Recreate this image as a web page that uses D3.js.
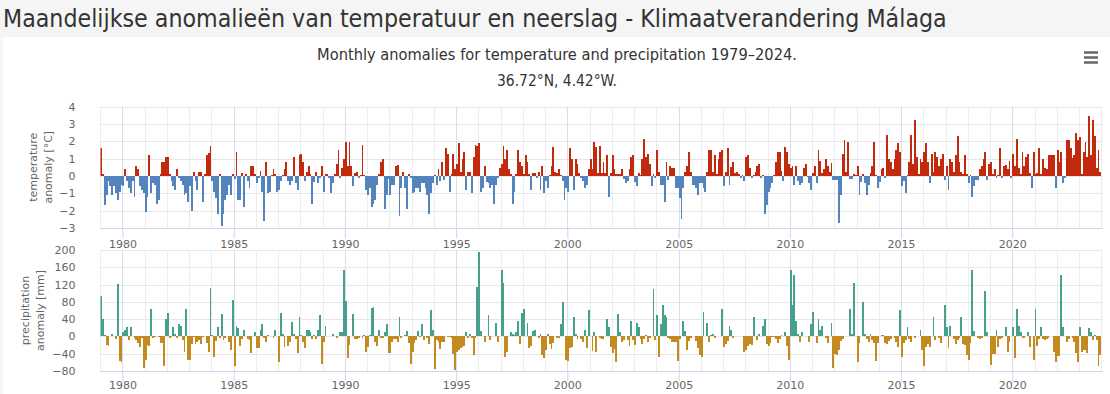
<!DOCTYPE html>
<html>
<head>
<meta charset="utf-8">
<script src="https://cdn.jsdelivr.net/npm/d3@7"></script>
<style>
  body { margin: 0; background: #f5f5f5; }
  svg { display: block; }
</style>
</head>
<body>
<svg id="chart" width="1110" height="394"></svg>
<script>
// monthly temperature anomaly [°C], one row per year, 1979 .. 2023
const tempAnomaly = [
  1.6, 0.1, -1.7, -1.1, -0.3, -0.6, -1.1, -0.6, -1.0, -1.4, -0.9, -0.5,
  -0.6, 0.4, -0.3, -0.7, -1.0, -0.3, -1.2, 0.6, 0.4, -0.6, -0.8, -1.0,
  -2.1, -1.2, 1.2, -1.0, -0.4, -0.5, -1.6, -1.4, 0.1, 0.8, 0.8, 1.1,
  1.1, 0.1, -0.3, -0.6, -0.8, 0.4, -0.1, -0.3, -0.5, -1.1, -1.0, -1.5,
  -0.6, -2.0, 0.2, -0.3, -0.8, 0.2, 0.2, -1.5, 0.1, 1.2, 1.3, 1.7,
  -0.3, -0.9, -1.3, -2.2, 0.1, -2.9, -2.2, -1.4, -1.1, -0.5, -1.1, 0.1,
  -0.2, 1.4, -1.4, -1.4, 0.15, -1.8, 0.1, -0.3, -0.7, 0.55, 0.55, 0.1,
  -0.4, -0.1, 0.3, -0.9, -2.6, 0.8, -1.0, -0.9, 0.05, 0.4, 0.1, -0.9,
  -0.8, -0.3, 0.05, 0.4, 0.8, -0.3, -0.5, -0.3, 1.1, -0.4, -0.8, 1.2,
  1.25, 0.8, -0.3, 0.25, 0.55, 0.1, -1.6, -0.35, 0.25, -0.4, -0.1, 0.55,
  -0.9, 0.1, 0.1, -0.1, -1.0, -0.4, 0.1, 0.7, 1.5, -0.1, 0.45, 1.0,
  1.95, 0.6, 1.95, 0.55, -0.6, 0.15, 0.25, -0.1, 0.05, 1.8, 0.05, -0.8,
  -1.1, -0.7, -1.8, -1.6, -1.4, -0.5, 0.1, 0.8, 0.95, -1.9, -1.1, -0.2,
  -1.1, -0.5, -0.5, 0.55, 0.65, -2.3, -0.7, 0.25, -0.7, -1.9, 0.1, -0.1,
  -1.0, -0.9, -0.7, -0.7, -0.9, -0.4, -0.4, -0.7, -1.1, -2.2, -1.0, -0.4,
  0.05, -0.5, 0.4, -0.3, 0.8, -0.25, 1.6, 1.25, -0.9, 0.1, 1.25, 0.4,
  0.7, 1.9, 0.25, 1.0, 1.35, -0.8, 0.25, 0.25, -1.0, 1.1, 1.8, 1.7,
  1.9, -0.9, -0.7, 0.55, -0.35, -0.4, -0.7, -0.5, -1.6, -0.5, -0.1, 0.45,
  0.7, 1.75, 1.0, 1.5, 0.4, 0.1, -1.6, -0.9, 0.1, 1.5, 0.8, 0.55,
  0.1, 1.2, 0.8, 0.1, -0.8, 0.15, 0.15, -0.1, 0.25, -0.8, 0.55, -1.0,
  -0.3, -0.7, 0.05, 0.55, 1.65, 0.25, 0.15, 0.4, 0.05, -0.3, -1.4, -0.7,
  -0.9, 1.6, 1.0, -0.8, 1.0, 0.7, 0.15, -0.1, -0.3, -0.7, -0.5, 0.4,
  1.0, 0.4, 1.95, 1.65, 0.15, 1.75, 0.15, 0.8, 0.15, 1.2, -1.2, 0.15,
  1.2, 0.4, 0.1, 0.1, 0.1, 0.4, -0.15, -0.4, -0.3, 0.4, 1.1, 1.2,
  -0.35, -0.6, 0.15, 0.05, 1.0, 2.1, 1.1, 1.25, 0.7, -0.6, 0.1, -0.1,
  1.5, 0.25, -0.5, -0.5, -1.5, 0.8, -0.25, 0.55, 0.45, 0.45, -0.7, -0.7,
  -1.3, -2.5, -0.7, 0.25, 0.55, 1.35, 0.25, -0.5, -0.5, -0.7, -1.1, -0.4,
  -0.4, -0.7, -0.9, 0.25, 1.5, 1.5, 0.25, 1.2, 0.1, 1.0, 1.4, 1.5,
  -0.6, 0.25, 1.6, -0.5, 0.5, 0.8, 0.15, 0.25, 0.1, -0.1, 0.05, -0.3,
  1.1, 1.2, 0.45, -0.1, 0.05, 0.25, 0.55, 0.7, -0.1, 0.05, -2.2, -1.7,
  -0.9, -0.7, -0.4, 0.05, 0.8, 1.4, 1.4, 0.3, -0.3, 1.65, 1.4, 0.7,
  0.45, 0.55, -0.5, 0.55, -0.3, -0.5, -0.4, 0.45, 0.7, -0.05, -0.4, -0.8,
  0.15, 0.55, -0.4, 1.5, 0.85, 0.15, 0.4, 0.95, 0.55, 0.25, 0.75, -0.25,
  -0.25, -0.25, -2.7, -1.1, 1.25, 2.05, 0.25, 1.95, -0.15, -0.15, 0.1, 0.05,
  0.55, -1.1, -0.35, 0.1, -0.4, -1.1, -0.5, 0.15, 0.55, 1.95, 0.05, -0.7,
  -0.35, 0.4, 0.45, -0.1, 2.35, 1.0, 0.8, 0.4, 1.0, 1.5, 1.9, 1.4,
  -0.6, -0.3, -1.0, 0.05, 0.8, 2.35, 0.7, 3.2, 1.1, 0.1, 0.95, 0.8,
  1.35, 1.9, 0.8, -0.4, 1.25, 0.25, 1.35, 1.1, 0.55, 0.95, 1.25, -0.25,
  0.55, -0.8, 0.95, 0.8, 0.25, 1.2, 2.3, 0.8, 0.25, 0.1, 1.2, 0.1,
  -0.4, 0.05, -1.2, -0.6, -0.25, -0.25, 0.4, 0.55, 0.95, 1.35, -0.25, 0.7,
  0.8, 0.1, 0.4, -0.1, 0.05, 1.6, -0.1, 0.55, 0.65, 0.4, 0.85, -0.1,
  1.25, 0.55, 2.15, 0.45, 0.1, 1.4, 0.55, 1.1, 1.25, 0.15, -0.7, 1.4,
  0.1, 0.15, 1.6, 0.1, 1.0, 0.45, 0.4, 1.2, 1.2, 1.2, 1.2, -0.7,
  1.5, 0.8, 1.4, -0.4, -0.1, 2.05, 2.05, 1.6, 1.05, 1.2, 2.45, 2.05,
  2.25, 0.1, 1.4, 1.95, 1.1, 3.45, 1.2, 3.2, 2.3, 0.45, 1.5, 0.25
];

// monthly precipitation anomaly [mm], one row per year, 1979 .. 2023
const precipAnomaly = [
  94, 41, 3, -19, -23, 2, 6, 0, -6, 121, -58, -60,
  10, 15, 21, -9, 21, 2, -3, -8, -15, -25, -4, -73,
  -55, -19, -23, 64, -4, -2, 2, -1, -15, -15, -69, 41,
  54, -4, -2, 21, 6, -4, 28, 23, -9, -36, 64, -55,
  -55, -17, -2, -18, -13, -8, -18, -2, 2, -15, -35, 113,
  3, -48, -10, 21, -4, 52, -8, -4, 0, -13, -31, 85,
  -69, 25, 19, -23, -6, 15, 0, -6, -9, -38, 0, 10,
  -27, -27, 15, 28, -3, -13, 4, 2, 0, -4, 15, 0,
  -60, 54, 5, -25, 0, -23, -13, 33, 5, -6, -38, 45,
  4, -12, -27, 15, 15, 10, -6, 3, -6, 15, 50, -64,
  -13, 25, 2, 0, 0, 6, 0, -4, 0, 11, 11, 154,
  82, -50, -19, 0, 52, -6, -6, -4, 0, -4, 4, -35,
  -25, 4, 65, 67, -13, -23, 15, -4, -4, 11, 28, -38,
  -38, -13, -6, -6, -13, 45, -4, 0, 3, 13, -15, -64,
  -37, -15, -8, 13, -2, 28, -8, 0, -3, -18, 62, 14,
  -75, -8, -12, -28, -12, -12, 1, -2, -2, -4, -40, -77,
  -35, -31, -27, -25, -23, 10, -4, 5, -4, -42, -4, 115,
  196, 13, 1, -13, 0, 50, -9, 0, 2, 31, -13, 2,
  154, 123, -48, -35, 2, 11, 5, 4, 10, 36, -18, 54,
  64, 0, 32, -27, -23, 13, 15, 0, -4, 6, -42, -50,
  -31, 6, -18, -28, -15, 0, -4, -4, 29, 79, 0, -55,
  -58, -27, -25, 45, 6, -6, 0, -6, -13, 15, -27, 62,
  2, -33, 10, -35, 2, -4, -6, -6, 2, 41, 21, -25,
  -38, -28, -60, 52, 10, -13, -8, 0, -8, -23, 36, -8,
  -19, 31, 21, -6, -18, -6, 4, -12, -4, 0, 110, -8,
  50, -48, 28, 73, 50, 46, -4, -6, -13, -13, -13, -58,
  -6, 0, 36, 13, -31, -10, -4, 0, 2, -10, -27, -42,
  -48, 56, 2, 31, -13, 4, 6, -4, 0, 1, 2, 64,
  -25, -18, -10, 23, 15, -4, 0, 2, 0, 0, 2, -36,
  -31, -23, -18, -19, 46, 0, -8, 6, 2, 23, 41, -18,
  -23, -15, -2, -2, -6, -15, -6, 4, 0, 10, -23, -55,
  154, 72, 142, 36, 6, -13, 10, 0, 2, 0, -13, 28,
  56, 0, -15, 41, 15, 25, 0, -4, -15, 2, 31, -73,
  -41, -42, -31, -10, -6, 0, 0, 0, 64, 6, 123, 2,
  -60, -15, 2, 79, 5, -6, -12, 6, -8, -15, -56, -15,
  0, 4, 4, -15, -18, -10, -6, 0, -4, -12, -25, 62,
  -48, -15, -8, 21, -6, -13, 0, -4, 0, 2, 15, -31,
  -69, -25, -18, -25, 2, 44, -9, 0, -4, -15, 0, 73,
  21, -27, 25, 2, -6, -18, -9, -4, 44, -18, -20, -42,
  -55, -15, 154, 13, 0, -4, -6, -4, 0, 104, 10, 2,
  -67, -40, -40, 15, -25, -6, -4, 0, 21, -36, -12, 0,
  21, -50, 64, 25, 11, -4, -4, 0, 10, -25, 0, -55,
  64, -23, -6, 21, -6, -9, -6, -4, 0, 2, -36, -60,
  -46, -45, 142, 21, 0, -12, -6, 0, -4, -13, -38, -60,
  21, -36, -31, -31, -38, 19, 11, -8, 4, -8, -69, -44
];

const tempTicks = [-3, -2, -1, 0, 1, 2, 3, 4];
const precipTicks = [-80, -40, 0, 40, 80, 120, 160, 200];
const labelYears = [1980, 1985, 1990, 1995, 2000, 2005, 2010, 2015, 2020];
const gridYears = d3.range(1979, 2025);

const pageTitle = "Maandelijkse anomalieën van temperatuur en neerslag - Klimaatverandering Málaga";
const subtitle1 = "Monthly anomalies for temperature and precipitation 1979\u20132024.";
const subtitle2 = "36.72°N, 4.42°W.";

// colours
const colTempPos = "#c3290d", colTempNeg = "#5384bd";
const colPrecPos = "#46a08b", colPrecNeg = "#c38b1f";

const svg = d3.select("#chart");

// page background + chart box
svg.append("rect").attr("x", 0).attr("y", 0).attr("width", 1110).attr("height", 394).attr("fill", "#f5f5f5");
svg.append("rect").attr("x", 3).attr("y", 37).attr("width", 1107).attr("height", 357).attr("fill", "#ffffff");

// fit a text element to a target width by scaling its font size
function fitText(sel, target) {
  const w = sel.node().getComputedTextLength();
  const fs = parseFloat(sel.attr("font-size"));
  sel.attr("font-size", (fs * target / w).toFixed(2));
}

const narrow = "'Liberation Sans Narrow', 'DejaVu Sans Condensed', 'Roboto', sans-serif";

const title = svg.append("text")
  .attr("x", 3).attr("y", 27)
  .attr("font-family", narrow).attr("font-size", 28)
  .attr("fill", "#333").text(pageTitle);
fitText(title, 944);

const sub1 = svg.append("text")
  .attr("x", 557).attr("y", 60).attr("text-anchor", "middle")
  .attr("font-family", narrow).attr("font-size", 16)
  .attr("fill", "#333").text(subtitle1);
fitText(sub1, 480);

const sub2 = svg.append("text")
  .attr("x", 557).attr("y", 86).attr("text-anchor", "middle")
  .attr("font-family", narrow).attr("font-size", 16)
  .attr("fill", "#333").text(subtitle2);
fitText(sub2, 120);

// menu icon
svg.append("g").selectAll("line").data([52.5, 57.5, 62.5]).enter().append("line")
  .attr("x1", 1084).attr("x2", 1098)
  .attr("y1", d => d).attr("y2", d => d)
  .attr("stroke", "#666").attr("stroke-width", 2.5);

// geometry
const plotLeft = 100.5, plotRight = 1102.5;
const months = d3.range(tempAnomaly.length).map(i => new Date(1979, i, 1));

const x = d3.scaleTime()
  .domain([new Date(1979, 0, 1), new Date(2024, 0, 1)])
  .range([100.2, 1101.3]);

const panels = [
  { values: tempAnomaly, ticks: tempTicks, domain: [-3, 4], top: 106.5, bottom: 228, labelDy: 16,
    pos: colTempPos, neg: colTempNeg, title: ["temperature", "anomaly [°C]"], titleX: [33, 48] },
  { values: precipAnomaly, ticks: precipTicks, domain: [-80, 200], top: 250, bottom: 371, labelDy: 14,
    pos: colPrecPos, neg: colPrecNeg, title: ["precipitation", "anomaly [mm]"], titleX: [25, 40] }
];

const fmt = d => d < 0 ? "\u2212" + Math.abs(d) : String(d);
const labelFont = "'DejaVu Sans', Verdana, sans-serif";

svg.append("defs").append("clipPath").attr("id", "plotclip")
  .append("rect").attr("x", plotLeft).attr("y", 0).attr("width", plotRight - plotLeft).attr("height", 394);

panels.forEach(p => {
  const y = d3.scaleLinear().domain(p.domain).range([p.bottom, p.top]);
  const g = svg.append("g");

  // horizontal grid
  g.append("g").selectAll("line").data(p.ticks).enter().append("line")
    .attr("x1", plotLeft).attr("x2", plotRight)
    .attr("y1", d => Math.round(y(d)) + 0.5).attr("y2", d => Math.round(y(d)) + 0.5)
    .attr("stroke", "#e6e6e6");

  // yearly vertical grid
  g.append("g").selectAll("line").data(gridYears.filter(yr => x(new Date(yr, 0, 1)) <= plotRight)).enter().append("line")
    .attr("x1", d => Math.round(x(new Date(d, 0, 1))) + 0.5)
    .attr("x2", d => Math.round(x(new Date(d, 0, 1))) + 0.5)
    .attr("y1", p.top).attr("y2", p.bottom)
    .attr("stroke", d => labelYears.includes(d) ? "#d7deea" : "#ececec");

  // bars
  g.append("g").attr("clip-path", "url(#plotclip)")
    .selectAll("rect").data(p.values).enter().append("rect")
    .attr("x", (d, i) => x(months[i]))
    .attr("width", (d, i) => x(d3.timeMonth.offset(months[i], 1)) - x(months[i]))
    .attr("y", d => Math.min(y(d), y(0)))
    .attr("height", d => Math.abs(y(d) - y(0)))
    .attr("fill", d => d >= 0 ? p.pos : p.neg)
    .attr("shape-rendering", "crispEdges");

  // x axis
  const xAxis = d3.axisBottom(x)
    .tickValues(labelYears.map(yr => new Date(yr, 0, 1)))
    .tickFormat(d3.timeFormat("%Y"))
    .tickSize(10).tickSizeOuter(0);
  const ax = g.append("g").attr("transform", `translate(0,${Math.round(p.bottom) + 0.5})`).call(xAxis);
  ax.select(".domain").attr("stroke", "#ccd6eb").attr("d", `M${plotLeft},0H${plotRight}`);
  ax.selectAll(".tick line").attr("stroke", "#ccd6eb");
  ax.selectAll(".tick text")
    .attr("y", p.labelDy).attr("dy", "0.35em")
    .attr("fill", "#666").attr("font-size", 11).attr("font-family", labelFont);

  // y axis labels
  const yAxis = d3.axisLeft(y).tickValues(p.ticks).tickFormat(fmt).tickSize(0).tickPadding(25);
  const ay = g.append("g").attr("transform", `translate(${plotLeft},0)`).call(yAxis);
  ay.select(".domain").remove();
  ay.selectAll(".tick text").attr("fill", "#666").attr("font-size", 11).attr("font-family", labelFont);

  // axis title
  const cy = (p.top + p.bottom) / 2;
  p.title.forEach((t, k) => {
    g.append("text")
      .attr("transform", `translate(${p.titleX[k]},${cy}) rotate(-90)`)
      .attr("text-anchor", "middle").attr("dy", "0.35em")
      .attr("font-family", labelFont).attr("font-size", 11)
      .attr("fill", "#666").text(t);
  });
});
</script>
</body>
</html>
